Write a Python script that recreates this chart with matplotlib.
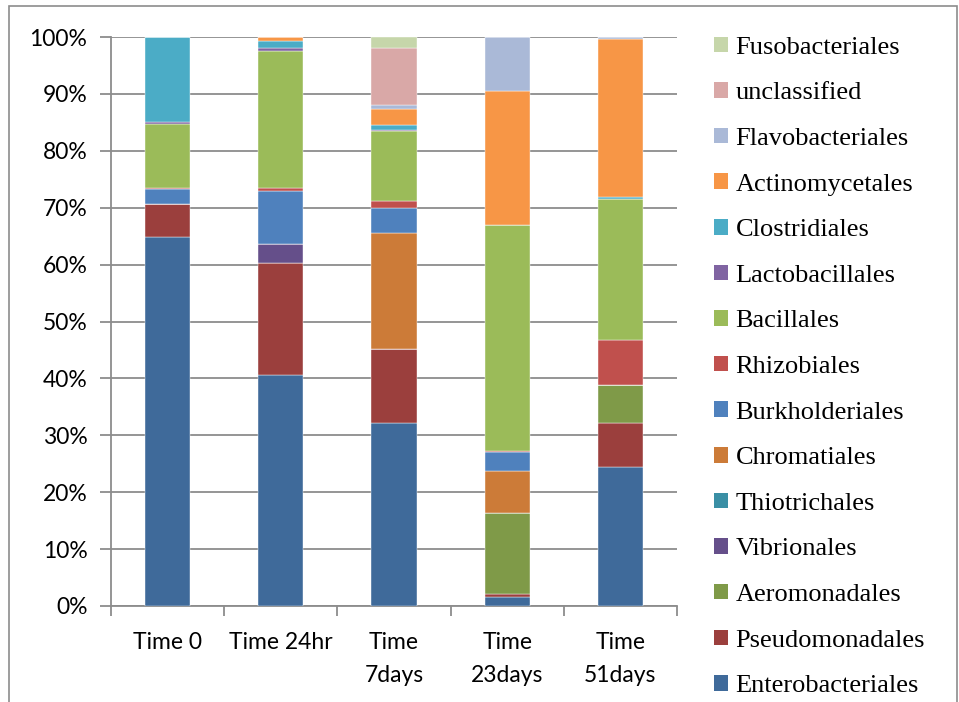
import numpy as np
import matplotlib
matplotlib.use('Agg')
import matplotlib.pyplot as plt
from matplotlib.patches import Patch, Rectangle

# Datos
tiempos = ['Time 0', 'Time 24hr', 'Time\n7days', 'Time\n23days', 'Time\n51days']

ordenes = ['Enterobacteriales', 'Pseudomonadales', 'Aeromonadales', 'Vibrionales',
           'Thiotrichales', 'Chromatiales', 'Burkholderiales', 'Rhizobiales',
           'Bacillales', 'Lactobacillales', 'Clostridiales', 'Actinomycetales',
           'Flavobacteriales', 'unclassified', 'Fusobacteriales']

enterobacteriales = [64.8, 40.6, 32.1, 1.5, 24.4]
pseudomonadales = [5.8, 19.7, 13.0, 0.6, 7.8]
aeromonadales = [0.0, 0.0, 0.0, 14.2, 6.6]
vibrionales = [0.0, 3.3, 0.0, 0.0, 0.0]
thiotrichales = [0.0, 0.0, 0.0, 0.0, 0.0]
chromatiales = [0.0, 0.0, 20.4, 7.4, 0.0]
burkholderiales = [2.7, 9.3, 4.5, 3.3, 0.0]
rhizobiales = [0.2, 0.6, 1.2, 0.2, 7.9]
bacillales = [11.2, 24.0, 12.3, 39.8, 24.9]
lactobacillales = [0.3, 0.5, 0.2, 0.0, 0.0]
clostridiales = [15.0, 1.3, 0.8, 0.0, 0.3]
actinomycetales = [0.0, 0.7, 2.8, 23.5, 27.8]
flavobacteriales = [0.0, 0.0, 0.7, 9.5, 0.3]
unclassified = [0.0, 0.0, 10.1, 0.0, 0.0]
fusobacteriales = [0.0, 0.0, 1.9, 0.0, 0.0]

valores = [enterobacteriales, pseudomonadales, aeromonadales, vibrionales,
           thiotrichales, chromatiales, burkholderiales, rhizobiales,
           bacillales, lactobacillales, clostridiales, actinomycetales,
           flavobacteriales, unclassified, fusobacteriales]

# Colores estilo Excel 2007
colores = ['#3F6A9A', '#9B3F3D', '#7F9A48', '#654F8A', '#3A8FA5', '#CC7B38',
           '#4F81BD', '#C0504D', '#9BBB59', '#8064A2', '#4BACC6', '#F79646',
           '#AAB9D7', '#D9A8A7', '#C6D6AA']

fig = plt.figure(figsize=(9.59, 7.02), dpi=100)
ax = fig.add_axes([111/959, 1 - 606/702, (677-111)/959, (606-37)/702])

x = np.arange(len(tiempos))
base = np.zeros(len(tiempos))
for nombre, vals, col in zip(ordenes, valores, colores):
    vals = np.array(vals)
    ax.bar(x, vals, 0.4, bottom=base, color=col, edgecolor='white',
           linewidth=0.3, label=nombre, zorder=3)
    base += vals

# Ejes y grilla
gris = '#8C8C8C'
ax.set_xlim(-0.5, len(tiempos) - 0.5)
ax.set_ylim(0, 100)
ax.set_yticks(np.arange(0, 101, 10))
ax.set_yticklabels([f'{v}%' for v in range(0, 101, 10)])
ax.yaxis.grid(True, color=gris, linewidth=1.3, zorder=0)
ax.set_xticks(x)
ax.set_xticklabels(tiempos, linespacing=1.7)
ax.set_xticks(np.arange(-0.5, len(tiempos)), minor=True)
ax.tick_params(axis='x', which='major', length=0, pad=18.5)
ax.tick_params(axis='x', which='minor', length=7, color=gris, width=1.3)
ax.tick_params(axis='y', length=8, color=gris, width=1.3, pad=9)
for lab in ax.get_xticklabels() + ax.get_yticklabels():
    lab.set_fontfamily('Lato')
    lab.set_fontsize(16.5)
for s in ['top', 'right']:
    ax.spines[s].set_visible(False)
ax.spines['left'].set_color(gris)
ax.spines['bottom'].set_color(gris)
ax.spines['left'].set_linewidth(1.3)
ax.spines['bottom'].set_linewidth(1.3)

# Leyenda (orden inverso)
handles = [Patch(facecolor=c) for c in colores][::-1]
fig.legend(handles, ordenes[::-1], loc='upper left', bbox_to_anchor=(703/959, 1 - 26/702),
           frameon=False, prop={'family': 'Liberation Serif', 'size': 19},
           handlelength=0.53, handleheight=0.53, handletextpad=0.3,
           labelspacing=0.89, borderaxespad=0)

# Borde del grafico
fig.patches.append(Rectangle((9/959, -0.05), (957-9)/959, 1.05 - 6/702,
                             transform=fig.transFigure, fill=False,
                             edgecolor='#8C8C8C', linewidth=1.2))

fig.savefig('out.png', dpi=100)
